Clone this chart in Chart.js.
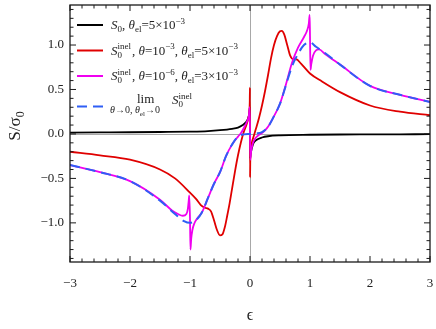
<!DOCTYPE html>
<html lang="en">
<head>
<meta charset="UTF-8">
<title>S/σ0 vs ϵ</title>
<script src="https://cdn.jsdelivr.net/npm/chart.js"></script>
<style>
    body { margin: 0; background: #fff; }
    canvas { display: block; }
</style>
</head>
<body>
<canvas id="grafico" width="436" height="329"></canvas>
<script>
const serif = '"Liberation Serif", "DejaVu Serif", serif';

const xTicks = [-3, -2, -1, 0, 1, 2, 3];
const yTicks = [-1, -0.5, 0, 0.5, 1];

// S0, theta_el = 5e-3 (negro)
const s0Eps = [-3, -2.5, -2, -1.5, -1, -0.7, -0.5, -0.3, -0.2, -0.12, -0.07, -0.03, -0.01, -0.002,
               0.002, 0.01, 0.03, 0.06, 0.1, 0.2, 0.3, 0.5, 1, 1.5, 2, 2.5, 3];
const s0Val = [0.015, 0.017, 0.019, 0.022, 0.026, 0.032, 0.042, 0.058, 0.072, 0.1, 0.13, 0.18, 0.24, 0.3,
               -0.28, -0.23, -0.16, -0.1, -0.07, -0.04, -0.026, -0.016, -0.009, -0.006, -0.005, -0.004, -0.003];

// S0 inel, theta = 1e-3 (rojo)
const inel3Eps = [-3, -2.5, -2, -1.5, -1.25, -1, -0.9, -0.82, -0.75, -0.7, -0.65, -0.6, -0.55, -0.5, -0.46,
                  -0.42, -0.38, -0.34, -0.3, -0.25, -0.2, -0.15, -0.1, -0.06, -0.03, -0.012, -0.004, -0.001,
                  0.001, 0.004, 0.012, 0.03, 0.06, 0.1, 0.15, 0.2, 0.25, 0.3, 0.35, 0.4, 0.45, 0.5, 0.53,
                  0.57, 0.62, 0.67, 0.72, 0.77, 0.85, 1, 1.2, 1.5, 2, 2.5, 3];
const inel3Val = [-0.2, -0.24, -0.29, -0.4, -0.5, -0.66, -0.73, -0.8, -0.83, -0.84, -0.87, -0.97, -1.08, -1.14, -1.13,
                  -1.05, -0.92, -0.78, -0.62, -0.42, -0.24, -0.09, 0.03, 0.1, 0.17, 0.24, 0.36, 0.52,
                  -0.49, -0.32, -0.18, -0.1, -0.03, 0.06, 0.18, 0.32, 0.48, 0.66, 0.85, 1.0, 1.1, 1.155, 1.16,
                  1.12, 1.0, 0.88, 0.84, 0.84, 0.79, 0.68, 0.59, 0.47, 0.32, 0.25, 0.21];

// S0 inel, theta = 1e-6 (magenta)
const inel6Eps = [-3, -2.5, -2, -1.5, -1.3, -1.2, -1.12, -1.06, -1.035, -1.02, -1.012, -1.0, -0.992, -0.98,
                  -0.96, -0.93, -0.88, -0.8, -0.7, -0.6, -0.5, -0.4, -0.3, -0.2, -0.15, -0.1, -0.05, -0.02,
                  -0.005, 0.005, 0.02, 0.05, 0.1, 0.15, 0.2, 0.25, 0.3, 0.4, 0.5, 0.6, 0.7, 0.8, 0.9, 0.95,
                  0.98, 0.994, 1.0, 1.008, 1.02, 1.05, 1.1, 1.15, 1.25, 1.5, 2, 2.5, 3];
const inel6Val = [-0.35, -0.43, -0.53, -0.74, -0.86, -0.9, -0.92, -0.9, -0.84, -0.74, -0.69, -0.95, -1.3, -1.18,
                  -1.08, -1.01, -0.95, -0.88, -0.72, -0.56, -0.43, -0.25, -0.12, -0.03, 0.01, 0.07, 0.14, 0.2,
                  0.3, -0.29, -0.19, -0.1, -0.04, -0.01, 0.01, 0.04, 0.08, 0.2, 0.34, 0.56, 0.8, 0.97, 1.09, 1.16,
                  1.24, 1.34, 1.1, 0.72, 0.78, 0.88, 0.94, 0.95, 0.9, 0.78, 0.54, 0.44, 0.36];

// limite theta -> 0, theta_el -> 0 (azul, discontinua)
const limEps = [-3, -2.5, -2, -1.5, -1.25, -1.1, -1, -0.9, -0.8, -0.7, -0.6, -0.5, -0.4, -0.3, -0.2, -0.1, 0,
                0.1, 0.2, 0.3, 0.4, 0.5, 0.6, 0.7, 0.8, 0.9, 1, 1.1, 1.25, 1.5, 2, 2.5, 3];
const limVal = [-0.35, -0.43, -0.53, -0.75, -0.9, -0.98, -1.0, -0.97, -0.88, -0.72, -0.56, -0.43, -0.25, -0.12,
                -0.03, -0.005, 0, 0.005, 0.02, 0.08, 0.2, 0.34, 0.55, 0.76, 0.9, 1.0, 1.03, 0.98, 0.91, 0.78,
                0.54, 0.44, 0.36];

function puntos(eps, val) {
    return eps.map((e, i) => ({ x: e, y: val[i] }));
}

function menos(v) {
    return String(v).replace('-', '\u2212');
}

// texto con subindices / superindices
function rico(ctx, x, y, partes, base) {
    let cx = x;
    const chico = Math.round(base * 0.7);
    partes.forEach(([t, k]) => {
        if (k === 'ss') {
            ctx.font = chico + 'px ' + serif;
            const w = Math.max(ctx.measureText(t[0]).width, ctx.measureText(t[1]).width);
            ctx.fillText(t[0], cx, y - base * 0.42);
            ctx.fillText(t[1], cx, y + base * 0.25);
            cx += w + 1;
            return;
        }
        let dy = 0;
        if (k === 'i') ctx.font = 'italic ' + base + 'px ' + serif;
        else if (k === 'sub') { ctx.font = chico + 'px ' + serif; dy = base * 0.25; }
        else if (k === 'sup') { ctx.font = chico + 'px ' + serif; dy = -base * 0.42; }
        else ctx.font = base + 'px ' + serif;
        ctx.fillText(t, cx, y + dy);
        cx += ctx.measureText(t).width;
    });
    return cx;
}

const filas = [
    { color: '#000', dash: [], y: 25, base: 29, partes: [['S', 'i'], ['0', 'sub'], [', ', 'r'], ['θ', 'i'], ['el', 'sub'], ['=5×10', 'r'], ['\u22123', 'sup']] },
    { color: '#e00000', dash: [], y: 50.5, base: 54.5, partes: [['S', 'i'], [['inel', '0'], 'ss'], [', ', 'r'], ['θ', 'i'], ['=10', 'r'], ['\u22123', 'sup'], [', ', 'r'], ['θ', 'i'], ['el', 'sub'], ['=5×10', 'r'], ['\u22123', 'sup']] },
    { color: '#f000f0', dash: [], y: 76, base: 80, partes: [['S', 'i'], [['inel', '0'], 'ss'], [', ', 'r'], ['θ', 'i'], ['=10', 'r'], ['\u22126', 'sup'], [', ', 'r'], ['θ', 'i'], ['el', 'sub'], ['=3×10', 'r'], ['\u22123', 'sup']] },
    { color: '#2f5ef5', dash: [10, 6], y: 106.5 }
];

const marco = {
    id: 'marco',
    beforeDatasetsDraw(chart) {
        const { ctx, chartArea: a, scales: { x, y } } = chart;
        ctx.save();
        ctx.strokeStyle = '#a8a8a8';
        ctx.lineWidth = 1;
        const x0 = Math.round(x.getPixelForValue(0)) + 0.5;
        const y0 = Math.round(y.getPixelForValue(0)) + 0.5;
        ctx.beginPath();
        ctx.moveTo(x0, a.top); ctx.lineTo(x0, a.bottom);
        ctx.moveTo(a.left, y0); ctx.lineTo(a.right, y0);
        ctx.stroke();
        ctx.restore();
    },
    afterDraw(chart) {
        const { ctx, chartArea: a, scales: { x, y } } = chart;
        ctx.save();
        ctx.strokeStyle = '#1a1a1a';
        ctx.lineWidth = 1.3;
        ctx.strokeRect(a.left, a.top, a.right - a.left, a.bottom - a.top);

        // marcas hacia dentro
        ctx.lineWidth = 1;
        ctx.beginPath();
        for (let k = -15; k <= 15; k++) {
            const v = k / 5;
            const px = x.getPixelForValue(v);
            const L = (k % 5 === 0) ? 6 : 3.5;
            ctx.moveTo(px, a.bottom); ctx.lineTo(px, a.bottom - L);
            ctx.moveTo(px, a.top); ctx.lineTo(px, a.top + L);
        }
        for (let k = -14; k <= 14; k++) {
            const v = k / 10;
            const py = y.getPixelForValue(v);
            const L = (k % 5 === 0) ? 6 : 3.5;
            ctx.moveTo(a.left, py); ctx.lineTo(a.left + L, py);
            ctx.moveTo(a.right, py); ctx.lineTo(a.right - L, py);
        }
        ctx.stroke();

        // titulo eje y
        ctx.fillStyle = '#222';
        ctx.textBaseline = 'alphabetic';
        ctx.save();
        ctx.translate(20, 126);
        ctx.rotate(-Math.PI / 2);
        ctx.font = '17px ' + serif;
        const w1 = ctx.measureText('S/σ').width;
        ctx.font = '12px ' + serif;
        const w2 = ctx.measureText('0').width;
        const x1 = -(w1 + w2) / 2;
        ctx.font = '17px ' + serif;
        ctx.fillText('S/σ', x1, 0);
        ctx.font = '12px ' + serif;
        ctx.fillText('0', x1 + w1, 4);
        ctx.restore();

        // leyenda
        filas.forEach(f => {
            ctx.strokeStyle = f.color;
            ctx.lineWidth = 2;
            ctx.setLineDash(f.dash);
            ctx.beginPath();
            ctx.moveTo(77, f.y); ctx.lineTo(103, f.y);
            ctx.stroke();
            ctx.setLineDash([]);
            if (f.partes) rico(ctx, 111, f.base, f.partes, 13);
        });
        ctx.font = '13px ' + serif;
        ctx.fillText('lim', 137, 103);
        rico(ctx, 110, 113, [['θ', 'i'], ['→0, ', 'r'], ['θ', 'i'], ['el', 'sub'], ['→0', 'r']], 10);
        rico(ctx, 172, 104, [['S', 'i'], [['inel', '0'], 'ss']], 13);
        ctx.restore();
    }
};

const comun = { pointRadius: 0, fill: false, borderWidth: 1.8, cubicInterpolationMode: 'monotone' };

new Chart(document.getElementById('grafico'), {
    type: 'line',
    data: {
        datasets: [
            { ...comun, label: 'S0', data: puntos(s0Eps, s0Val), borderColor: '#000', order: 4 },
            { ...comun, label: 'S0 inel 1e-3', data: puntos(inel3Eps, inel3Val), borderColor: '#e00000', order: 3 },
            { ...comun, label: 'S0 inel 1e-6', data: puntos(inel6Eps, inel6Val), borderColor: '#f000f0', order: 2 },
            { ...comun, label: 'lim', data: puntos(limEps, limVal), borderColor: '#2f5ef5', borderWidth: 2, borderDash: [10, 6], order: 1 }
        ]
    },
    options: {
        responsive: false,
        animation: false,
        devicePixelRatio: 1,
        layout: { padding: { top: 5, right: 6, left: 0, bottom: 0 } },
        plugins: { legend: { display: false }, tooltip: { enabled: false } },
        scales: {
            x: {
                type: 'linear', min: -3, max: 3,
                afterBuildTicks: s => { s.ticks = xTicks.map(v => ({ value: v })); },
                afterFit: s => { s.height = 67; s.paddingLeft = 0; s.paddingRight = 0; },
                grid: { display: false, drawTicks: false },
                border: { display: false },
                ticks: { font: { family: serif, size: 13 }, color: '#222', padding: 14, maxRotation: 0, autoSkip: false, callback: v => menos(v) },
                title: { display: true, text: 'ϵ', color: '#222', font: { family: serif, size: 16 }, padding: { top: 0, bottom: 4 } }
            },
            y: {
                type: 'linear', min: -1.44, max: 1.45,
                afterBuildTicks: s => { s.ticks = yTicks.map(v => ({ value: v })); },
                afterFit: s => { s.width = 70; s.paddingTop = 0; s.paddingBottom = 0; },
                grid: { display: false, drawTicks: false },
                border: { display: false },
                ticks: { font: { family: serif, size: 13 }, color: '#222', padding: 6, autoSkip: false, callback: v => menos(v.toFixed(1)) }
            }
        }
    },
    plugins: [marco]
});
</script>
</body>
</html>
